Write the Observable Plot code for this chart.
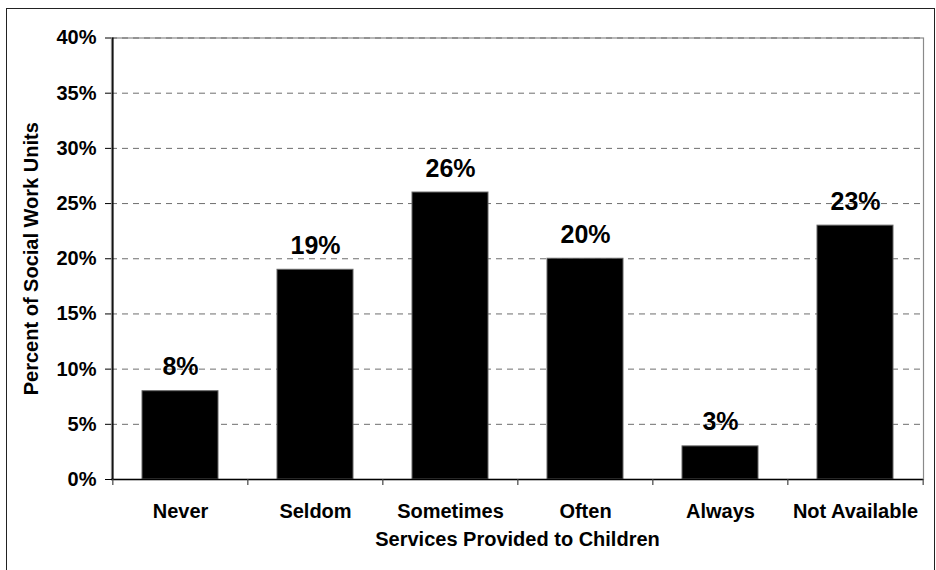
<!DOCTYPE html>
<html>
<head>
<meta charset="utf-8">
<script src="https://cdn.jsdelivr.net/npm/d3@7"></script>
<script src="https://cdn.jsdelivr.net/npm/@observablehq/plot@0.6"></script>
<style>
  html, body { margin: 0; padding: 0; background: #fff; }
  #wrap { position: relative; width: 936px; height: 570px; overflow: hidden; }
  #wrap svg { position: absolute; left: 0; top: 0; }
  #border { position: absolute; left: 6px; top: 8px; width: 927px; height: 572px;
            border: 1.5px solid #222; pointer-events: none; }
</style>
</head>
<body>
<div id="wrap"><div id="border"></div></div>
<script>
// Frequency of services provided to children, share of social work units
const categories = ["Never", "Seldom", "Sometimes", "Often", "Always", "Not Available"];
const percents = [8, 19, 26, 20, 3, 23];
const yTicks = [0, 5, 10, 15, 20, 25, 30, 35, 40];
const xTitle = "Services Provided to Children";
const yTitle = "Percent of Social Work Units";

const rows = categories.map((c, i) => ({category: c, value: percents[i]}));

const W = 936, H = 570;
const mL = 111, mR = 13, mT = 37.5, mB = 91;
const step = (W - mL - mR) / categories.length; // width of one category slot
const font = "'Liberation Sans', Arial, Helvetica, sans-serif";

const chart = Plot.plot({
  width: W,
  height: H,
  marginLeft: mL,
  marginRight: mR,
  marginTop: mT,
  marginBottom: mB,
  style: {fontFamily: font, color: "#000", background: "transparent"},
  x: {type: "band", domain: categories, paddingInner: 0.44, paddingOuter: 0.22, axis: null},
  y: {domain: [0, 40], axis: null},
  marks: [
    // plot area outline
    Plot.frame({stroke: "#8a8a8a", strokeWidth: 1.2}),
    // dashed horizontal gridlines
    Plot.gridY(yTicks, {stroke: "#6e6e6e", strokeOpacity: 1, strokeDasharray: "6,5", strokeWidth: 1}),
    // bars
    Plot.barY(rows, {x: "category", y: "value", fill: "#000", stroke: "#666", strokeWidth: 1}),
    // value labels above bars
    Plot.text(rows, {
      x: "category", y: "value", text: d => `${d.value}%`,
      dy: -16, lineAnchor: "bottom", fontSize: 25, fontWeight: "bold", fill: "#000"
    }),
    // left axis line
    Plot.ruleX([categories[0]], {y1: 0, y2: 40, dx: -step / 2, stroke: "#000", strokeWidth: 1.5}),
    // bottom axis line
    Plot.ruleY([0], {stroke: "#000", strokeWidth: 1.5}),
    // tick marks between categories on the x axis
    Plot.ruleX(categories, {y1: 0, y2: 0, insetBottom: -6, dx: -step / 2, stroke: "#444", strokeWidth: 1.2}),
    Plot.ruleX([categories[categories.length - 1]], {y1: 0, y2: 0, insetBottom: -6, dx: step / 2, stroke: "#444", strokeWidth: 1.2}),
    // y axis ticks and labels
    Plot.axisY({
      ticks: yTicks, tickSize: 6, tickPadding: 9, tickFormat: d => `${d}%`,
      fontSize: 20, fontWeight: "bold", label: null, stroke: "#000", fill: "#000"
    }),
    // x axis category labels
    Plot.axisX({
      tickSize: 0, tickPadding: 24, fontSize: 20, fontWeight: "bold", label: null, fill: "#000"
    }),
    // axis titles
    Plot.text([xTitle], {
      frameAnchor: "bottom", dy: 66, lineAnchor: "bottom", textAnchor: "middle",
      fontSize: 20, fontWeight: "bold", fill: "#000"
    }),
    Plot.text([yTitle], {
      frameAnchor: "left", dx: -74, rotate: -90, lineAnchor: "bottom", textAnchor: "middle",
      fontSize: 20, fontWeight: "bold", fill: "#000"
    })
  ]
});

document.getElementById("wrap").prepend(chart);
</script>
</body>
</html>
